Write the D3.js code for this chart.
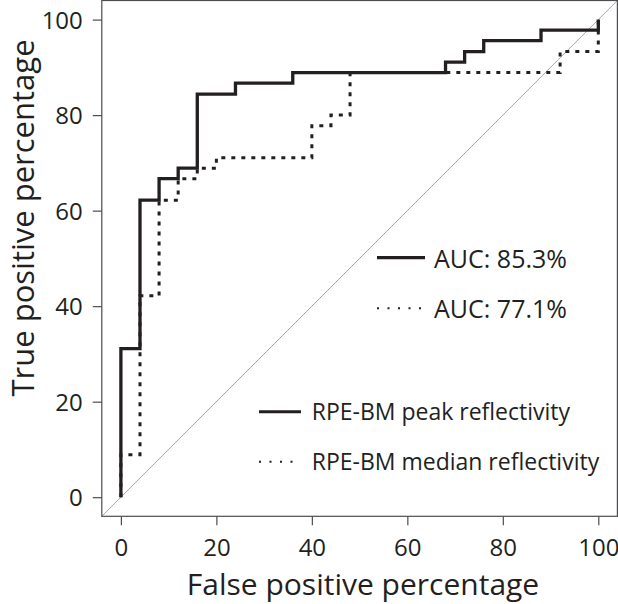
<!DOCTYPE html>
<html>
<head>
<meta charset="utf-8">
<script src="https://cdn.jsdelivr.net/npm/d3@7"></script>
<style>
  html, body { margin: 0; padding: 0; background: #fff; }
  svg { display: block; }
  text { font-family: "Open Sans", "Noto Sans", sans-serif; fill: #231f20; }
</style>
</head>
<body>
<svg id="chart" width="618" height="604"></svg>
<script>
// ---- data (percent) ----
const peakFPR   = [0, 0, 4, 8, 12, 16, 24, 36, 68, 72, 76, 88, 100];
const peakTPR   = [0, 31.1, 62.2, 66.7, 68.9, 84.4, 86.7, 88.9, 91.1, 93.3, 95.6, 97.8, 100];
const medianFPR = [0, 0, 4, 8, 12, 16, 20, 40, 44, 48, 92, 100];
const medianTPR = [0, 8.9, 42.2, 62.2, 66.7, 68.9, 71.1, 77.8, 80, 88.9, 93.3, 100];
const tickValues = [0, 20, 40, 60, 80, 100];
const aucLabels = ["AUC: 85.3%", "AUC: 77.1%"];
const seriesNames = ["RPE-BM peak reflectivity", "RPE-BM median reflectivity"];
const xTitle = "False positive percentage";
const yTitle = "True positive percentage";

const svg = d3.select("#chart");
const L = 101.8, R = 617.4, T = 0.5, B = 516.3;
const x = d3.scaleLinear().domain([-4, 104]).range([L, R]);
const y = d3.scaleLinear().domain([-4, 104]).range([B, T]);
const ink = "#231f20";

// diagonal reference line
svg.append("line")
  .attr("x1", x(-4)).attr("y1", y(-4)).attr("x2", x(104)).attr("y2", y(104))
  .attr("stroke", "#a7a9ac").attr("stroke-width", 1);

// curves
const line = d3.line().x(d => x(d[0])).y(d => y(d[1])).curve(d3.curveStepAfter);
const peak = peakFPR.map((v, i) => [v, peakTPR[i]]);
const median = medianFPR.map((v, i) => [v, medianTPR[i]]);

svg.append("path").datum(median).attr("d", line)
  .attr("fill", "none").attr("stroke", ink).attr("stroke-width", 3)
  .attr("stroke-dasharray", "4,6");
svg.append("path").datum(peak).attr("d", line)
  .attr("fill", "none").attr("stroke", ink).attr("stroke-width", 3.3);

// box
svg.append("rect").attr("x", L).attr("y", T).attr("width", R - L).attr("height", B - T)
  .attr("fill", "none").attr("stroke", "#4d4d4f").attr("stroke-width", 1.2);

// x axis
const xAxis = d3.axisBottom(x).tickValues(tickValues).tickSize(9).tickPadding(5).tickSizeOuter(0);
const gx = svg.append("g").attr("transform", `translate(0,${B})`).call(xAxis);
gx.select(".domain").remove();
gx.selectAll(".tick line").attr("stroke", "#4d4d4f").attr("stroke-width", 1.2);
gx.selectAll(".tick text").attr("font-size", 24).attr("fill", ink)
  .attr("font-family", "'Open Sans', sans-serif")
  .attr("dy", null).attr("y", 40);

// y axis
const yAxis = d3.axisLeft(y).tickValues(tickValues).tickSize(9).tickPadding(8).tickSizeOuter(0);
const gy = svg.append("g").attr("transform", `translate(${L},0)`).call(yAxis);
gy.select(".domain").remove();
gy.selectAll(".tick line").attr("stroke", "#4d4d4f").attr("stroke-width", 1.2);
gy.selectAll(".tick text").attr("font-size", 24).attr("fill", ink)
  .attr("font-family", "'Open Sans', sans-serif")
  .attr("x", -19).attr("dy", "0.35em");

// axis titles
svg.append("text").attr("x", 363).attr("y", 595).attr("text-anchor", "middle")
  .attr("font-size", 30).text(xTitle);
const yt = svg.append("text")
  .attr("text-anchor", "middle").attr("font-size", 31).text(yTitle);
const ytb = yt.node().getBBox();
yt.attr("transform", `translate(${Math.max(24, -ytb.y + 0.5)},218) rotate(-90)`);

// legend 1 (AUC)
const leg1 = [{ y: 257.7, dash: null, w: 3.2 }, { y: 308.3, dash: "2,8.5", w: 2 }];
leg1.forEach((d, i) => {
  svg.append("line").attr("x1", 377).attr("x2", 425).attr("y1", d.y).attr("y2", d.y)
    .attr("stroke", ink).attr("stroke-width", d.w).attr("stroke-dasharray", d.dash);
  svg.append("text").attr("x", 434).attr("y", d.y + 9.8).attr("font-size", 25).text(aucLabels[i]);
});

// legend 2 (series)
const leg2 = [{ y: 411.7, dash: null, w: 3 }, { y: 461.7, dash: "2,8.5", w: 2 }];
leg2.forEach((d, i) => {
  svg.append("line").attr("x1", 259).attr("x2", 301).attr("y1", d.y).attr("y2", d.y)
    .attr("stroke", ink).attr("stroke-width", d.w).attr("stroke-dasharray", d.dash);
  svg.append("text").attr("x", 311.7).attr("y", d.y + 8).attr("font-size", 23).text(seriesNames[i]);
});
</script>
</body>
</html>
